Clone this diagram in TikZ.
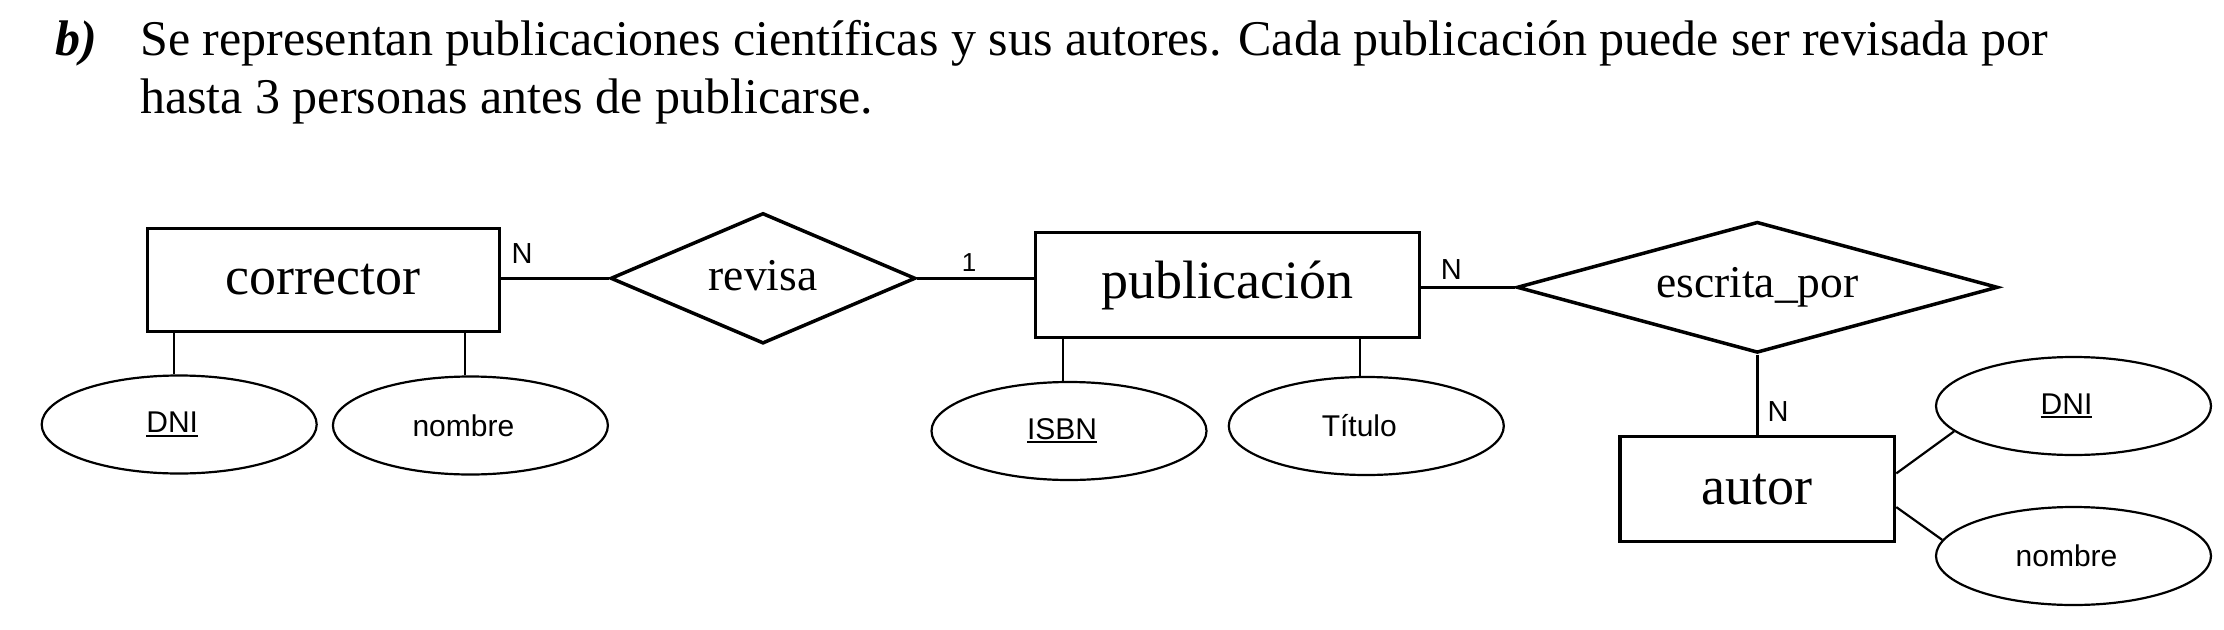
\documentclass[tikz,border=0pt]{standalone}
\usepackage{fontspec}
\setmainfont{Liberation Serif}
\newfontfamily\arialf{Liberation Sans}
\usetikzlibrary{shapes.geometric}
\newcommand\myul[1]{\setbox0\hbox{#1}\rlap{\rule[-4pt]{\wd0}{2pt}}\box0}
\newcommand\atxt[1]{\hspace*{-14pt}#1}
\tikzset{
  entity/.style={draw, line width=3.5pt, rectangle, inner sep=0pt, font=\fontsize{54}{60}\selectfont},
  relation/.style={draw, line width=3.5pt, diamond, inner sep=0pt, font=\fontsize{45.5}{50}\selectfont},
  attr/.style={draw, line width=2.2pt, ellipse, inner sep=0pt, minimum width=275pt, minimum height=98pt, font=\arialf\fontsize{30}{34}\selectfont},
  card/.style={inner sep=0pt, font=\arialf\fontsize{29}{32}\selectfont},
  strong line/.style={line width=3.5pt},
  thin line/.style={line width=1.8pt},
  title/.style={inner sep=0pt, anchor=base west, font=\fontsize{50}{55}\selectfont}
}
\begin{document}
\begin{tikzpicture}[x=1pt, y=-1pt]
\useasboundingbox (0,0) rectangle (2224,629);
% title
\node[title] (tb) at (55,55) {\textbf{\textit{b)}}};
\node[title] (t1) at (140,55) {Se representan publicaciones científicas y sus autores. Cada publicación puede ser revisada por};
\node[title] (t2) at (140,113) {hasta 3 personas antes de publicarse.};
% entities
\node[entity, minimum width=352pt, minimum height=103.4pt] (corr) at (323.3,280) {corrector};
\node[entity, minimum width=384pt, minimum height=105pt] (pub) at (1227.7,285.2) {publicación};
\node[entity, minimum width=274.5pt, minimum height=104.8pt] (aut) at (1757.3,489.1) {autor};
% relationships
\node[relation, aspect=2.34, minimum width=305pt, minimum height=130.6pt] (rev) at (763,278.3) {\raisebox{5pt}{revisa}};
\node[relation, aspect=3.67, minimum width=481pt, minimum height=131pt] (esc) at (1757.3,287.3) {escrita\_por};
% attributes
\node[attr] (dni1) at (179.2,424.5) {\atxt{\myul{DNI}}};
\node[attr] (nom1) at (470.4,425.5) {\atxt{nombre}};
\node[attr] (isbn) at (1069,431) {\atxt{\myul{ISBN}}};
\node[attr] (tit) at (1366.3,426) {\atxt{Título}};
\node[attr] (dni2) at (2073.5,406) {\atxt{\myul{DNI}}};
\node[attr] (nom2) at (2073.5,556) {\atxt{nombre}};
% connectors
\draw[strong line] (rev.west -| corr.east) -- (rev.west);
\draw[strong line] (rev.east) -- (rev.east -| pub.west);
\draw[strong line] (pub.east |- esc.west) -- (esc.west);
\draw[strong line] (esc.south) -- (aut.north);
\draw[thin line] ([xshift=-5.5pt]dni1.north) -- ([xshift=-5.5pt]dni1.north |- corr.south);
\draw[thin line] ([xshift=-5.6pt]nom1.north) -- ([xshift=-5.6pt]nom1.north |- corr.south);
\draw[thin line] ([xshift=-6pt]isbn.north) -- ([xshift=-6pt]isbn.north |- pub.south);
\draw[thin line] ([xshift=-6.3pt]tit.north) -- ([xshift=-6.3pt]tit.north |- pub.south);
\draw[line width=2.2pt] ([yshift=15.7pt]aut.east) -- (dni2.192);
\draw[line width=2.2pt] ([yshift=-18pt]aut.east) -- (nom2.173.6);
% cardinalities
\node[card] (c1) at (522,254) {N};
\node[card, font=\arialf\fontsize{26}{30}\selectfont] (c2) at (969,262.5) {1};
\node[card] (c3) at (1451.3,269.7) {N};
\node[card] (c4) at (1778,411.7) {N};
\end{tikzpicture}
\end{document}
